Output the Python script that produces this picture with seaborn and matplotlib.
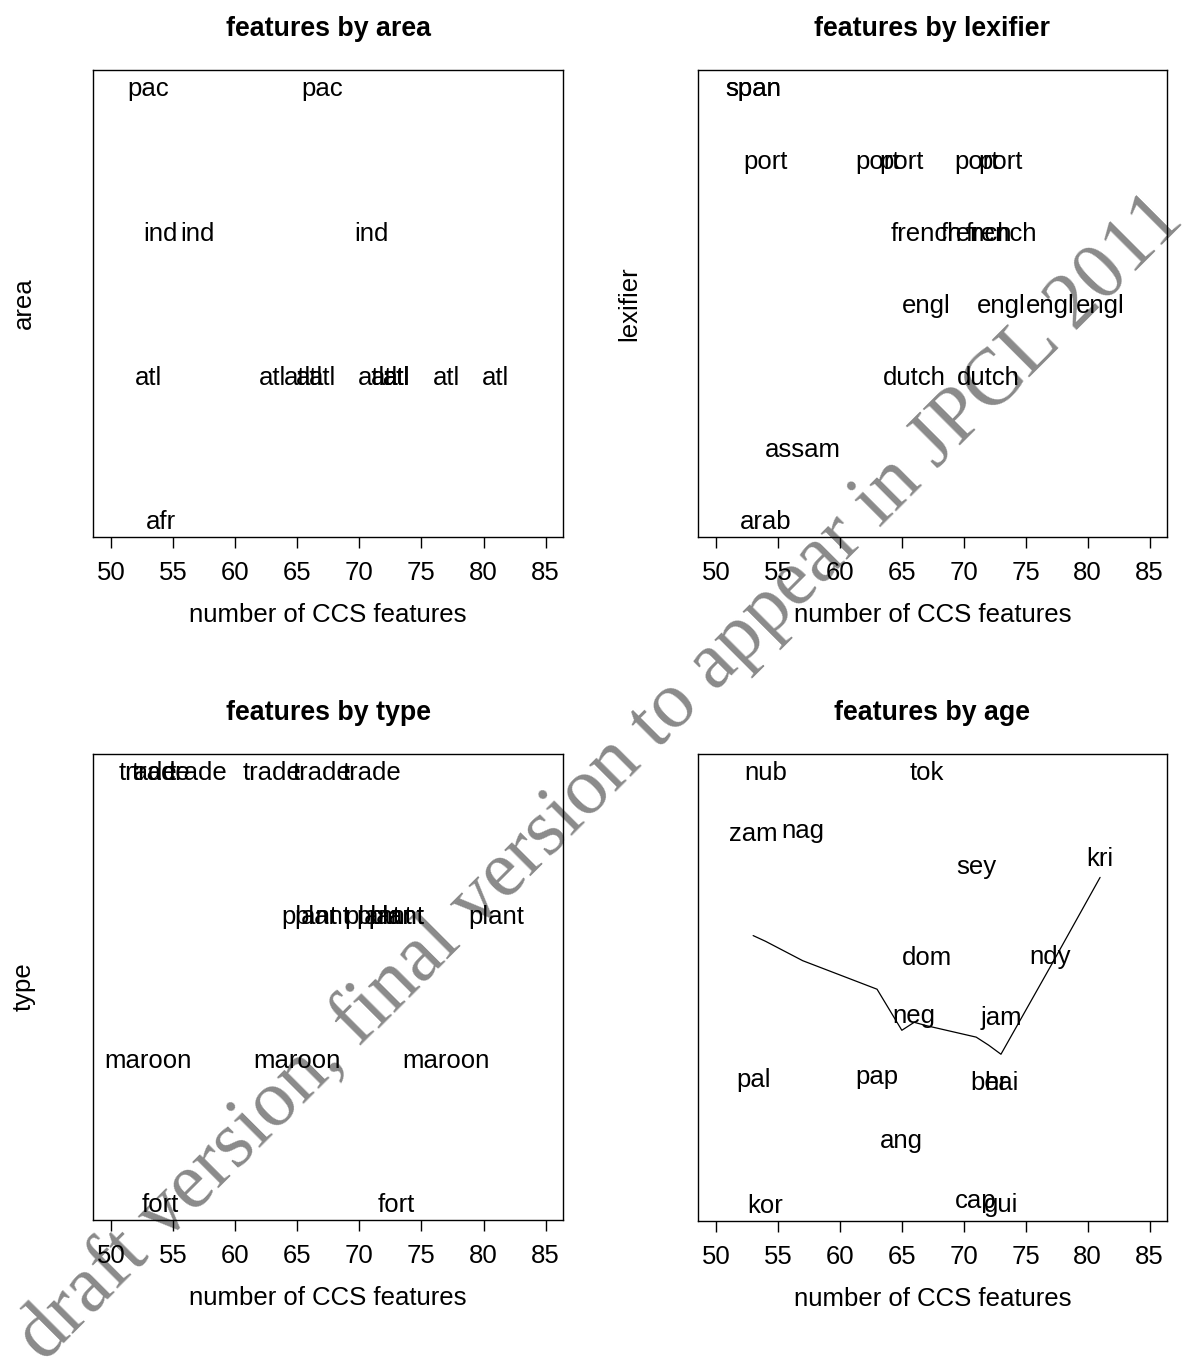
import matplotlib
matplotlib.use("Agg")
import matplotlib.pyplot as plt
import matplotlib.transforms as mtrans
import seaborn as sns
import numpy as np

# ---------------- data ----------------
creoles = ["ang", "ber", "cap", "dom", "gui", "hai", "jam", "kor", "kri",
           "nag", "ndy", "neg", "nub", "pal", "pap", "sey", "tok", "zam"]
features = [65, 72, 71, 67, 73, 73, 73, 54, 81, 57, 77, 66, 54, 53, 63, 71, 67, 53]
area = ["atl", "atl", "atl", "atl", "atl", "atl", "atl", "ind", "atl",
        "ind", "atl", "atl", "afr", "atl", "atl", "ind", "pac", "pac"]
lexifier = ["port", "dutch", "port", "french", "port", "french", "engl", "port", "engl",
            "assam", "engl", "dutch", "arab", "span", "port", "french", "engl", "span"]
ctype = ["maroon", "plant", "trade", "plant", "fort", "plant", "plant", "fort", "plant",
         "trade", "maroon", "plant", "trade", "maroon", "trade", "plant", "trade", "trade"]
age = [1577, 1628, 1524, 1737, 1521, 1628, 1685, 1520, 1824,
       1849, 1738, 1686, 1899, 1630, 1633, 1817, 1899, 1846]

area_levels = ["afr", "atl", "ind", "pac"]
lexifier_levels = ["arab", "assam", "dutch", "engl", "french", "port", "span"]
type_levels = ["fort", "maroon", "plant", "trade"]

# smoothed (lowess) age curve
lowess_x = [53, 54, 57, 63, 65, 66, 67, 71, 72, 73, 77, 81]
lowess_age = [1755, 1750, 1733, 1708, 1672, 1679, 1676, 1666, 1659, 1651, 1728, 1806]

xticks = [50, 55, 60, 65, 70, 75, 80, 85]
xlabel = "number of CCS features"
watermark = "draft version, final version to appear in JPCL 2011"

# ---------------- style ----------------
sns.set_style("white")
plt.rcParams["font.family"] = ["Liberation Sans", "DejaVu Sans"]
plt.rcParams["text.color"] = "black"
plt.rcParams["axes.labelcolor"] = "black"
plt.rcParams["xtick.color"] = "black"
plt.rcParams["xtick.labelcolor"] = "black"
plt.rcParams["axes.titlecolor"] = "black"

W, H = 1187, 1364
fig = plt.figure(figsize=(W / 100, H / 100), dpi=100)

FS = 18.5


def make_ax(l, r, t, b):
    ax = fig.add_axes([l / W, 1 - b / H, (r - l) / W, (b - t) / H])
    ax.set_facecolor("none")
    for s in ax.spines.values():
        s.set_color("black")
        s.set_linewidth(1.0)
        s.set_visible(True)
    ax.set_xlim(48.55, 86.4)
    ax.set_xticks(xticks)
    ax.set_xticklabels([str(v) for v in xticks])
    ax.tick_params(axis="x", bottom=True, direction="out", length=7.7, width=1.0,
                   labelsize=FS, pad=9.6, color="black", labelcolor="black")
    ax.tick_params(axis="y", left=False, labelleft=False)
    ax.set_yticks([])
    ax.set_xlabel(xlabel, fontsize=FS, labelpad=13, color="black")
    return ax


boxes = [(93, 563, 70, 537), (698, 1167, 70, 537),
         (93, 563, 754, 1220), (698, 1167, 754, 1221)]
titles = ["features by area", "features by lexifier", "features by type", "features by age"]
ylabels = ["area", "lexifier", "type", "age"]
groups = [(area, area_levels), (lexifier, lexifier_levels), (ctype, type_levels), None]

for i in range(4):
    ax = make_ax(*boxes[i])
    ax.set_title(titles[i], fontsize=19.3, fontweight="bold", pad=24.5, color="black")
    trans = mtrans.offset_copy(ax.transData, fig=fig, y=-6.6, units="points")
    if groups[i] is not None:
        cats, levels = groups[i]
        ypos = [levels.index(c) + 1 for c in cats]
        n = len(levels)
        ax.set_ylim(1 - 0.04 * (n - 1), n + 0.04 * (n - 1))
        for x, y, c in zip(features, ypos, cats):
            ax.text(x, y, c, ha="center", va="baseline", fontsize=FS,
                    color="black", transform=trans)
    else:
        r = max(age) - min(age)
        ax.set_ylim(min(age) - 0.04 * r, max(age) + 0.04 * r)
        sns.lineplot(x=lowess_x, y=lowess_age, ax=ax, color="black", linewidth=0.9,
                     estimator=None, sort=False)
        for x, y, c in zip(features, age, creoles):
            ax.text(x, y, c, ha="center", va="baseline", fontsize=FS,
                    color="black", transform=trans)
        ax.set_yticks([])
        ax.set_xlabel(xlabel, fontsize=FS, labelpad=13, color="black")
    ax.set_ylabel(ylabels[i], fontsize=FS, color="black")
    ax.yaxis.set_label_coords(-0.122, 0.5)

fig.text(601 / W, 1 - 778 / H, watermark, rotation=45, rotation_mode="anchor",
         ha="center", va="center", fontsize=57.5, family="Liberation Serif",
         color="#8a8a8a", zorder=-5)

fig.savefig("out.png", dpi=100, facecolor="white")
